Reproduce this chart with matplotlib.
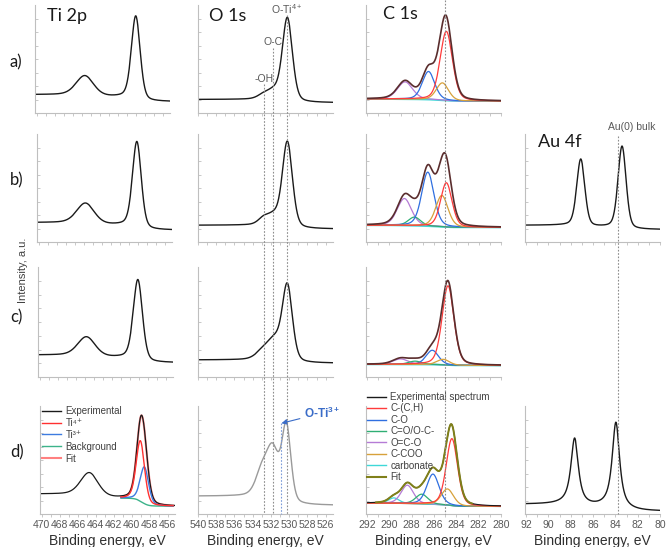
import numpy as np
import matplotlib
matplotlib.use('Agg')
import matplotlib.pyplot as plt
from matplotlib.lines import Line2D
from matplotlib.transforms import blended_transform_factory

plt.rcParams['font.family'] = ['Liberation Sans', 'DejaVu Sans']
plt.rcParams['mathtext.default'] = 'regular'

W, H = 666, 547

# ---------------- data ----------------
ROW_LABELS = ['a)', 'b)', 'c)', 'd)']
PANEL_TITLES = ['Ti 2p', 'O 1s', 'C 1s', 'Au 4f']
TI_TICKS = [470, 468, 466, 464, 462, 460, 458, 456]
O_TICKS = [540, 538, 536, 534, 532, 530, 528, 526]
C_TICKS = [292, 290, 288, 286, 284, 282, 280]
AU_TICKS = [92, 90, 88, 86, 84, 82, 80]

# Ti 2p peaks per row (eV, height, fwhm); row d: 2p1/2, Ti4+ 2p3/2, Ti3+ 2p3/2
TI_CENTERS = [[464.65, 459.0], [464.8, 459.1], [464.8, 459.1], [464.7, 459.05, 458.6]]
TI_HEIGHTS = [[0.185, 0.77], [0.19, 0.795], [0.175, 0.73], [0.215, 0.56, 0.34]]
TI_FWHM = [[2.3, 1.15], [2.3, 1.15], [2.3, 1.2], [2.3, 1.1, 1.1]]
TI_BG = [[0.17, 0.105], [0.18, 0.11], [0.20, 0.13], [0.185, 0.072]]

# O 1s peaks per row: -OH, O-C, O-Ti
O_CENTERS = [[532.8, 531.7, 530.2], [532.8, 531.7, 530.2], [532.9, 531.6, 530.2], [533.0, 531.8, 530.3]]
O_HEIGHTS = [[0.04, 0.07, 0.77], [0.06, 0.08, 0.79], [0.07, 0.17, 0.68], [0.22, 0.44, 0.69]]
O_FWHM = [[1.5, 1.5, 1.3], [1.4, 1.5, 1.3], [1.8, 1.8, 1.3], [1.6, 1.6, 1.15]]
O_BG = [[0.125, 0.095], [0.155, 0.12], [0.155, 0.125], [0.165, 0.08]]
O_LINES = [532.8, 531.75, 530.25]
O_LINE_LABELS = ['-OH', 'O-C', 'O-Ti$^{4+}$']
O_TI3_LINE = 530.85

# C 1s components per row
C_KEYS = [['O=C-O', 'C-O', 'C-COO', 'C-(C,H)'],
          ['O=C-O', 'C=O/O-C-', 'C-O', 'C-COO', 'C-(C,H)'],
          ['O=C-O', 'C=O/O-C-', 'C-O', 'C-COO', 'C-(C,H)'],
          ['carbonate', 'O=C-O', 'C=O/O-C-', 'C-O', 'C-COO', 'C-(C,H)']]
C_CENTERS = [[288.6, 286.5, 285.25, 284.9],
             [288.66, 287.76, 286.56, 285.3, 284.9],
             [289.0, 287.7, 286.16, 285.17, 284.75],
             [289.6, 288.4, 287.1, 286.1, 284.8, 284.4]]
C_HEIGHTS = [[0.16, 0.26, 0.16, 0.64],
             [0.25, 0.08, 0.50, 0.29, 0.41],
             [0.05, 0.03, 0.13, 0.05, 0.72],
             [0.05, 0.17, 0.09, 0.28, 0.15, 0.62]]
C_FWHM = [[1.6, 1.3, 1.3, 1.3],
          [1.5, 1.3, 1.3, 1.3, 1.2],
          [1.6, 1.4, 1.3, 1.3, 1.25],
          [1.1, 1.3, 1.3, 1.3, 1.3, 1.2]]
C_BG = [[0.13, 0.11], [0.155, 0.135], [0.115, 0.105], [0.10, 0.07]]
C_LINE = 285.0

# Au 4f (rows b and d)
AU_ROWS = [1, 3]
AU_CENTERS = [[87.1, 83.4], [87.65, 83.95]]
AU_HEIGHTS = [[0.62, 0.76], [0.62, 0.80]]
AU_FWHM = [[0.85, 0.85], [0.8, 0.8]]
AU_BG = [[0.155, 0.115], [0.09, 0.025]]
AU_LINE = 83.75

TI_LEGEND = ['Experimental', 'Ti\u2074\u207a', 'Ti\u00b3\u207a', 'Background', 'Fit']
C_LEGEND = ['Experimental spectrum', 'C-(C,H)', 'C-O', 'C=O/O-C-', 'O=C-O', 'C-COO', 'carbonate', 'Fit']

# ---------------- styles ----------------
C_COLORS = {'C-(C,H)': '#ff3b3b', 'C-O': '#2f6fe0', 'C=O/O-C-': '#2fae74',
            'O=C-O': '#b57bd6', 'C-COO': '#d7a13a', 'carbonate': '#3fd8d8'}
FIT_OLIVE = '#80801a'
SPINE = '#bfbfbf'
TXT = '#595959'

ROW_TOPS = [5, 134, 267, 406]
ROW_HS = [108, 108, 110, 108]
TI_LEFTS = [35, 37, 38, 40]
O_LEFT, C_LEFT, AU_LEFT = 198, 366, 525
AX_W = 135


def pv(x, c, h, w, m=0.3):
    r2 = 4.0 * ((x - c) / w) ** 2
    return h * (m / (1.0 + r2) + (1 - m) * np.exp(-np.log(2) * r2))


def spectrum(xlo, xhi, centers, heights, fwhms, bg, m=0.3):
    x = np.linspace(xlo, xhi, 600)
    comps = [pv(x, c, h, w, m) for c, h, w in zip(centers, heights, fwhms)]
    tot = np.sum(comps, axis=0)
    cum = np.cumsum(tot)
    frac = cum / cum[-1]
    b = bg[1] + (bg[0] - bg[1]) * frac
    return x, b, comps, b + tot


fig = plt.figure(figsize=(W / 100, H / 100), dpi=100)


def make_ax(left, top, h, xlim, ticks, bottom_row):
    ax = fig.add_axes([left / W, 1 - (top + h) / H, AX_W / W, h / H])
    ax.set_xlim(*xlim)
    ax.set_ylim(0, 1)
    for s in ['top', 'right']:
        ax.spines[s].set_visible(False)
    for s in ['left', 'bottom']:
        ax.spines[s].set_color(SPINE)
        ax.spines[s].set_linewidth(0.8)
    ax.set_yticks(np.arange(0.0, 1.0, 0.125))
    ax.set_yticklabels([])
    ax.tick_params(axis='y', direction='in', length=2, color=SPINE, width=0.6)
    ax.set_xticks(ticks)
    ax.set_xticks(np.arange(min(ticks), max(ticks) + 1, 1), minor=True)
    ax.tick_params(axis='x', which='both', direction='out', length=2, color=SPINE,
                   width=0.6, labelsize=7.5, labelcolor=TXT, pad=2)
    if bottom_row:
        ax.set_xlabel('Binding energy, eV', fontsize=10, color='#303030', labelpad=3)
    else:
        ax.set_xticklabels([])
    ax.patch.set_alpha(0)
    return ax


def vline(ax, xv, ytop, ybot, color='#8c8c8c'):
    tr = blended_transform_factory(ax.transData, fig.transFigure)
    fig.add_artist(Line2D([xv, xv], [1 - ytop / H, 1 - ybot / H], transform=tr,
                          color=color, lw=0.8, ls=(0, (1.5, 1.5))))


axes_O = []
axes_C = []
axes_Au = []
for r in range(4):
    top, h = ROW_TOPS[r], ROW_HS[r]
    bottom = (r == 3)
    # Ti 2p
    ax = make_ax(TI_LEFTS[r], top, h, (470.2, 455.2), TI_TICKS, bottom)
    x, b, comps, tot = spectrum(455.2, 470.2, TI_CENTERS[r], TI_HEIGHTS[r], TI_FWHM[r], TI_BG[r])
    if r == 3:
        xf, bf, cf, tf = spectrum(455.4, 461.2, TI_CENTERS[r][1:], TI_HEIGHTS[r][1:],
                                  TI_FWHM[r][1:], [np.interp(461.2, x, b), np.interp(455.4, x, b)])
        ax.plot(xf, tf, color='#ff8080', lw=1.5, alpha=0.9)
        ax.plot(x, tot, color='#1a1a1a', lw=0.9)
        ax.plot(xf, bf, color='#3cb38a', lw=1.0)
        ax.plot(xf, bf + cf[1], color='#3d7be0', lw=1.0)
        ax.plot(xf, bf + cf[0], color='#ff3030', lw=1.0)
        handles = [Line2D([], [], color='#1a1a1a', lw=1.0), Line2D([], [], color='#ff3030', lw=1.0),
                   Line2D([], [], color='#3d7be0', lw=1.0), Line2D([], [], color='#3cb38a', lw=1.0),
                   Line2D([], [], color='#ff8080', lw=1.5)]
        ax.legend(handles, TI_LEGEND, loc='upper left', bbox_to_anchor=(42 / W, 1 - 406 / H),
                  bbox_transform=fig.transFigure, frameon=False, fontsize=7, labelcolor='#404040',
                  handlelength=2.0, handletextpad=0.4, labelspacing=0.2, borderpad=0, borderaxespad=0)
    else:
        ax.plot(x, tot, color='#1a1a1a', lw=1.0)
    # O 1s
    ax = make_ax(O_LEFT, top, h, (540.0, 525.2), O_TICKS, bottom)
    x, b, comps, tot = spectrum(525.2, 540.0, O_CENTERS[r], O_HEIGHTS[r], O_FWHM[r], O_BG[r])
    ax.plot(x, tot, color='#9a9a9a' if r == 3 else '#1a1a1a', lw=1.0)
    axes_O.append(ax)
    # C 1s
    ax = make_ax(C_LEFT, top, h, (292.1, 280.0), C_TICKS, bottom)
    x, b, comps, tot = spectrum(280.0, 292.1, C_CENTERS[r], C_HEIGHTS[r], C_FWHM[r], C_BG[r])
    if r < 3:
        ax.plot(x, b, color='#3fd8d8', lw=1.3)
        for k, cp in zip(C_KEYS[r], comps):
            ax.plot(x, b + cp, color=C_COLORS[k], lw=0.9)
        ax.plot(x, tot, color='#5a2d2d', lw=1.2)
    else:
        ax.plot(x, b, color='#6b5b6b', lw=0.8)
        for k, cp in zip(C_KEYS[r], comps):
            ax.plot(x, b + cp, color=C_COLORS[k], lw=0.9)
        ax.plot(x, tot, color='#1a1a1a', lw=0.8)
        m = (x > 282.6) & (x < 291.2)
        ax.plot(x[m], tot[m], color=FIT_OLIVE, lw=1.4)
        handles = [Line2D([], [], color='#1a1a1a', lw=1.0)]
        handles += [Line2D([], [], color=C_COLORS[k], lw=1.0)
                    for k in ['C-(C,H)', 'C-O', 'C=O/O-C-', 'O=C-O', 'C-COO', 'carbonate']]
        handles += [Line2D([], [], color=FIT_OLIVE, lw=1.5)]
        ax.legend(handles, C_LEGEND, loc='upper left', bbox_to_anchor=(367 / W, 1 - 392 / H),
                  bbox_transform=fig.transFigure, frameon=False, fontsize=7, labelcolor='#404040',
                  handlelength=2.0, handletextpad=0.4, labelspacing=0.15, borderpad=0, borderaxespad=0)
    axes_C.append(ax)
    # Au 4f
    if r in AU_ROWS:
        i = AU_ROWS.index(r)
        ax = make_ax(AU_LEFT, top, h, (92.1, 80.0), AU_TICKS, bottom)
        x, b, comps, tot = spectrum(80.0, 92.1, AU_CENTERS[i], AU_HEIGHTS[i], AU_FWHM[i], AU_BG[i],
                                    m=0.3 if i == 0 else 0.9)
        ax.plot(x, tot, color='#1a1a1a', lw=1.0)
        axes_Au.append(ax)

# dotted reference lines
O_LINE_TOPS = [84, 48, 15]
O_LABEL_Y = [79, 42, 9]
for xv, yt in zip(O_LINES, O_LINE_TOPS):
    vline(axes_O[0], xv, yt, 514)
vline(axes_O[3], O_TI3_LINE, 423, 514, color='#7a9ad8')
trO = blended_transform_factory(axes_O[0].transData, fig.transFigure)
for xv, lab, yl in zip(O_LINES, O_LINE_LABELS, O_LABEL_Y):
    fig.text(xv, 1 - yl / H, lab, transform=trO, ha='center', va='center', fontsize=7.5, color=TXT)
vline(axes_C[0], C_LINE, 0, 514)
vline(axes_Au[0], AU_LINE, 136, 514)
trA = blended_transform_factory(axes_Au[0].transData, fig.transFigure)
fig.text(AU_LINE - 1.2, 1 - 127 / H, 'Au(0) bulk', transform=trA, ha='center', va='center',
         fontsize=7.5, color=TXT)

# O-Ti3+ annotation
axes_O[3].annotate('O-Ti$^{3+}$', xy=(O_TI3_LINE, 0.84), xycoords='data',
                   xytext=(304 / W, 1 - 413 / H), textcoords='figure fraction',
                   ha='left', va='center', fontsize=8.5, fontweight='bold', color='#3a6cc8',
                   arrowprops=dict(arrowstyle='-|>', color='#3a6cc8', lw=0.8, mutation_scale=8,
                                   shrinkA=1, shrinkB=0))

# titles
TITLE_POS = [(47, 16), (209, 16), (383, 14), (538, 142)]
for t, (px, py) in zip(PANEL_TITLES, TITLE_POS):
    fig.text(px / W, 1 - py / H, t, ha='left', va='center', fontsize=13, color='#1a1a1a',
             family=['Lato', 'DejaVu Sans'])

ROW_LABEL_Y = [62, 180, 317, 452]
for lab, py in zip(ROW_LABELS, ROW_LABEL_Y):
    fig.text(10 / W, 1 - py / H, lab, ha='left', va='center', fontsize=12, color='#1a1a1a',
             family=['Lato', 'DejaVu Sans'])

fig.text(23 / W, 1 - 270 / H, 'Intensity, a.u.', rotation=90, ha='center', va='center',
         fontsize=8, color='#404040')

fig.savefig('out.png', dpi=100)
